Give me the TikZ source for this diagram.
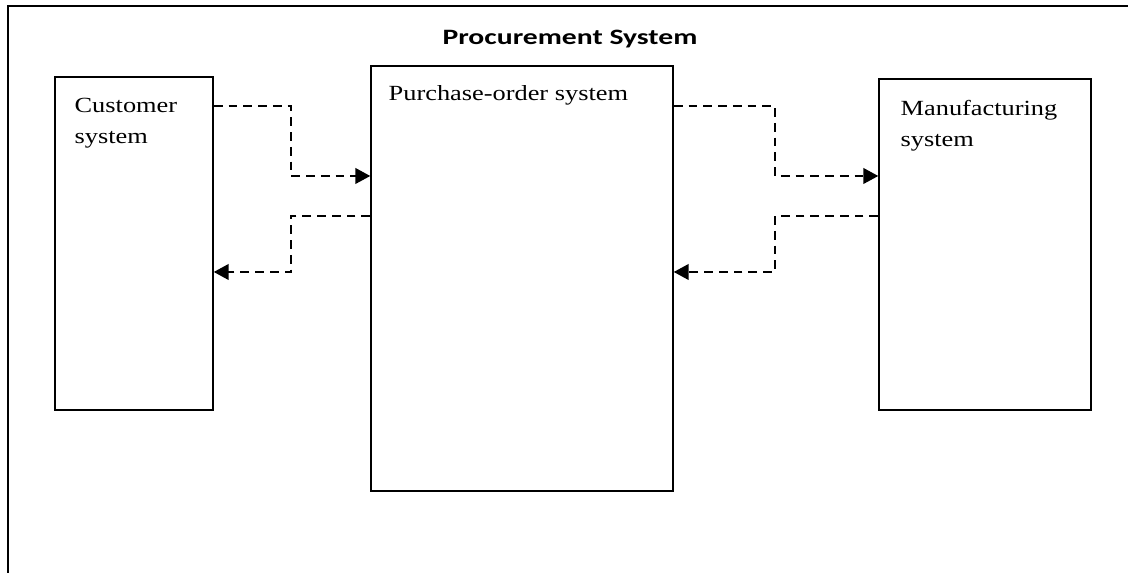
\documentclass[tikz,border=0pt]{standalone}
\usepackage{fontspec}
\setmainfont{Liberation Serif}
\newfontfamily\headfont{Carlito}
\usetikzlibrary{calc,positioning,arrows.meta}
\newcommand{\ProcBoxLine}{0.9pt}

\begin{document}
\begin{tikzpicture}[x=0.02cm, y=0.02cm,
                    frame/.style = { line width=1pt },
                    sysbox/.style = { draw, line width=\ProcBoxLine, inner sep=0pt },
                    boxtext/.style = { anchor=north west, inner sep=0pt, align=left, xscale=1.22,
                                       font=\fontsize{12.3}{17.6}\selectfont },
                    title/.style = { anchor=base, inner sep=0pt, xscale=1.35,
                                     font=\headfont\bfseries\fontsize{12.5}{15}\selectfont },
                    flow/.style = { dashed, dash pattern=on 5pt off 3.4pt, line width=0.9pt,
                                    -{Triangle[length=8.5pt, width=9pt]} }]
  \useasboundingbox (0,0) rectangle (1128,573);

  \draw [frame] (8,0) -- (8,567) -- (1128,567);
  \node [title] (head) at (570,528) {Procurement System};

  \node [sysbox, minimum width=3.16cm, minimum height=6.66cm] (cust) at (134,329.5) {};
  \node [sysbox, minimum width=6.04cm, minimum height=8.5cm]  (po)   at (522,294.5) {};
  \node [sysbox, minimum width=4.24cm, minimum height=6.62cm] (manu) at (985,328.5) {};

  \node [boxtext] (custtext) at ($(cust.north west)+(20,-21.5)$) {Customer\\system};
  \node [boxtext] (potext)   at ($(po.north west)+(18,-20)$)     {Purchase-order system};
  \node [boxtext] (manutext) at ($(manu.north west)+(22,-21.5)$) {Manufacturing\\system};

  % levels and bends of the dashed links
  \coordinate (outA) at (0,467);
  \coordinate (inA)  at (0,397);
  \coordinate (outB) at (0,357);
  \coordinate (inB)  at (0,301);
  \coordinate (midL) at (291,0);
  \coordinate (midR) at (775,0);

  \draw [flow] (cust.east |- outA) -| (midL |- inA) -- (po.west |- inA);
  \draw [flow] (po.west |- outB) -| (midL |- inB) -- (cust.east |- inB);
  \draw [flow] (po.east |- outA) -| (midR |- inA) -- (manu.west |- inA);
  \draw [flow] (manu.west |- outB) -| (midR |- inB) -- (po.east |- inB);
\end{tikzpicture}
\end{document}
